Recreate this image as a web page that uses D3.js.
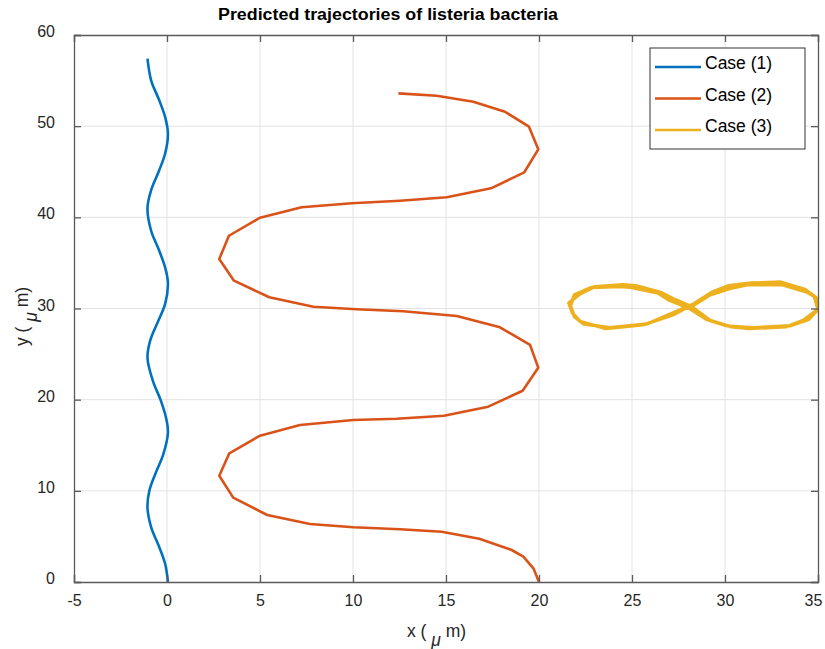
<!DOCTYPE html>
<html>
<head>
<meta charset="utf-8">
<script src="https://cdn.jsdelivr.net/npm/d3@7"></script>
<style>
  body { margin: 0; background: #fff; }
  text { font-family: "Liberation Sans", Arial, sans-serif; }
</style>
</head>
<body>
<script>
// case (1): slow wobble near x=0
const case1X = [0.05, -0.10, -0.45, -0.85, -1.05, -0.95, -0.60, -0.20, 0.05, -0.05, -0.35, -0.75, -1.05, -0.90, -0.50, -0.10, 0.05, -0.10, -0.45, -0.85, -1.05, -0.85, -0.45, -0.10, 0.05, -0.10, -0.45, -0.85, -1.05];
const case1Y = [0, 2, 4, 6, 8.2, 10, 12, 14, 16.4, 18, 20, 22, 24.6, 26.5, 28.5, 30.5, 32.8, 34.5, 36.5, 38.5, 41, 43, 45, 47, 49.2, 51, 53, 55, 57.4];

// case (2): wide zig-zag
const case2X = [20.0, 19.7, 19.16, 18.53, 16.79, 14.77, 12.53, 10.02, 7.69, 5.39, 3.56, 2.81, 3.35, 5.0, 7.15, 10.02, 12.35, 14.89, 17.27, 19.12, 19.96, 19.52, 17.9, 15.58, 12.7, 10.2, 7.87, 5.5, 3.6, 2.81, 3.33, 5.0, 7.24, 9.93, 12.53, 15.04, 17.42, 19.21, 19.96, 19.46, 18.17, 16.47, 14.5, 12.44];
const case2Y = [0, 1.5, 2.78, 3.51, 4.75, 5.52, 5.78, 6.0, 6.36, 7.35, 9.25, 11.66, 14.12, 16.05, 17.22, 17.77, 17.91, 18.24, 19.23, 20.98, 23.51, 26.0, 27.94, 29.18, 29.69, 29.91, 30.2, 31.23, 33.05, 35.43, 37.98, 39.96, 41.1, 41.54, 41.82, 42.2, 43.18, 44.94, 47.46, 49.94, 51.58, 52.68, 53.34, 53.6];

// case (3): figure eight, traced twice
const case3X = [28.2, 29.2, 30.3, 31.2, 33.1, 34.4, 34.8, 35.0, 34.2, 33.3, 31.3, 30.3, 29.2, 28.2, 27.2, 26.5, 25.2, 24.5, 23.0, 22.2, 21.6, 21.8, 22.2, 23.6, 25.6, 27.2,
                28.3, 29.3, 30.2, 31.4, 33.0, 34.3, 34.9, 35.1, 34.5, 33.5, 31.5, 30.1, 29.0, 28.1, 27.0, 26.4, 25.0, 24.4, 22.8, 21.9, 21.7, 21.9, 22.4, 23.8, 25.8, 27.3, 28.3];
const case3Y = [30.2, 31.5, 32.2, 32.6, 32.6, 31.8, 31.3, 29.9, 28.7, 28.0, 27.8, 28.0, 28.7, 30.2, 31.1, 31.8, 32.5, 32.6, 32.4, 31.6, 30.6, 29.5, 28.6, 27.8, 28.2, 29.3,
                30.5, 31.8, 32.5, 32.8, 32.9, 32.1, 31.2, 30.1, 28.8, 28.1, 27.9, 28.1, 28.8, 30.0, 30.9, 31.7, 32.3, 32.4, 32.3, 31.5, 30.3, 29.1, 28.3, 27.9, 28.3, 29.6, 30.5];

const seriesNames = ['Case (1)', 'Case (2)', 'Case (3)'];
const colors = ['#0072BD', '#D95319', '#EDB120'];
const xTicks = [-5, 0, 5, 10, 15, 20, 25, 30, 35];
const yTicks = [0, 10, 20, 30, 40, 50, 60];

const W = 825, H = 649;
const box = { left: 74, right: 818, top: 35, bottom: 582 };

const svg = d3.select('body').append('svg')
    .attr('width', W)
    .attr('height', H);

const x = d3.scaleLinear().domain([-5, 35]).range([box.left, box.right]);
const y = d3.scaleLinear().domain([0, 60]).range([box.bottom, box.top]);

// grid
svg.append('g').selectAll('line').data(xTicks.slice(1, -1)).join('line')
    .attr('x1', d => x(d)).attr('x2', d => x(d))
    .attr('y1', box.top).attr('y2', box.bottom)
    .attr('stroke', '#e3e3e3').attr('stroke-width', 1);
svg.append('g').selectAll('line').data(yTicks.slice(1, -1)).join('line')
    .attr('y1', d => y(d)).attr('y2', d => y(d))
    .attr('x1', box.left).attr('x2', box.right)
    .attr('stroke', '#e3e3e3').attr('stroke-width', 1);

svg.append('clipPath').attr('id', 'clip')
    .append('rect')
    .attr('x', box.left).attr('y', box.top)
    .attr('width', box.right - box.left).attr('height', box.bottom - box.top);

const line = d3.line().x(d => x(d[0])).y(d => y(d[1]));
const series = [
    d3.zip(case1X, case1Y),
    d3.zip(case2X, case2Y),
    d3.zip(case3X, case3Y)
];

const lineGen = [
    d3.line().x(d => x(d[0])).y(d => y(d[1])).curve(d3.curveCatmullRom.alpha(0.5)),
    line,
    line
];

svg.append('g').attr('clip-path', 'url(#clip)')
    .selectAll('path').data(series).join('path')
    .attr('d', (d, i) => lineGen[i](d))
    .attr('fill', 'none')
    .attr('stroke', (d, i) => colors[i])
    .attr('stroke-width', (d, i) => i == 2 ? 3.4 : 2.6)
    .attr('stroke-linejoin', 'round');

// axes (MATLAB style box, ticks inward)
const axisColor = '#5a5a5a';
const tickLen = 7;
const fmt = d => String(d);

const xb = svg.append('g').attr('transform', `translate(0,${box.bottom})`)
    .call(d3.axisBottom(x).tickValues(xTicks).tickFormat(fmt).tickSize(-tickLen).tickPadding(13));
const xt = svg.append('g').attr('transform', `translate(0,${box.top})`)
    .call(d3.axisTop(x).tickValues(xTicks).tickSize(-tickLen).tickFormat(''));
const yl = svg.append('g').attr('transform', `translate(${box.left},0)`)
    .call(d3.axisLeft(y).tickValues(yTicks).tickFormat(fmt).tickSize(-tickLen).tickPadding(19));
const yr = svg.append('g').attr('transform', `translate(${box.right},0)`)
    .call(d3.axisRight(y).tickValues(yTicks).tickSize(-tickLen).tickFormat(''));

[xb, xt, yl, yr].forEach(g => {
    g.select('.domain').attr('stroke', axisColor).attr('stroke-width', 1.3);
    g.selectAll('.tick line').attr('stroke', axisColor).attr('stroke-width', 1.3);
    g.selectAll('.tick text')
        .attr('fill', '#262626')
        .style('font-size', '16px')
        .style('font-family', '"Liberation Sans", Arial, sans-serif');
});
yl.selectAll('.tick text').attr('dy', '0.1em');
// keep the last x label inside the page
xb.selectAll('.tick text').filter(d => d == 35).attr('dx', -5);

// title
svg.append('text')
    .attr('x', 388).attr('y', 20)
    .attr('text-anchor', 'middle')
    .attr('font-weight', 'bold')
    .attr('font-size', 16)
    .attr('fill', '#000')
    .attr('textLength', 340)
    .attr('lengthAdjust', 'spacingAndGlyphs')
    .text('Predicted trajectories of listeria bacteria');

// axis labels
const xl = svg.append('text')
    .attr('x', 407).attr('y', 637)
    .attr('font-size', 17.5)
    .attr('fill', '#262626');
xl.append('tspan').text('x ( ');
xl.append('tspan').attr('dy', 9).attr('font-style', 'italic').text('\u03bc');
xl.append('tspan').attr('dy', -9).text(' m)');

const ylab = svg.append('text')
    .attr('transform', 'translate(28,346) rotate(-90)')
    .attr('font-size', 17.5)
    .attr('fill', '#262626');
ylab.append('tspan').text('y ( ');
ylab.append('tspan').attr('dy', 9).attr('font-style', 'italic').text('\u03bc');
ylab.append('tspan').attr('dy', -9).text(' m)');

// legend
const lg = svg.append('g').attr('transform', 'translate(650,48)');
lg.append('rect')
    .attr('width', 155).attr('height', 101)
    .attr('fill', '#fff')
    .attr('stroke', '#333').attr('stroke-width', 1);
const rows = lg.selectAll('g.row').data(seriesNames).join('g')
    .attr('class', 'row')
    .attr('transform', (d, i) => `translate(0,${19 + i * 31.5})`);
rows.append('line')
    .attr('x1', 5).attr('x2', 51)
    .attr('stroke', (d, i) => colors[i])
    .attr('stroke-width', 2.6);
rows.append('text')
    .attr('x', 55).attr('y', 2)
    .attr('font-size', 17.5)
    .attr('fill', '#000')
    .text(d => d);
</script>
</body>
</html>
